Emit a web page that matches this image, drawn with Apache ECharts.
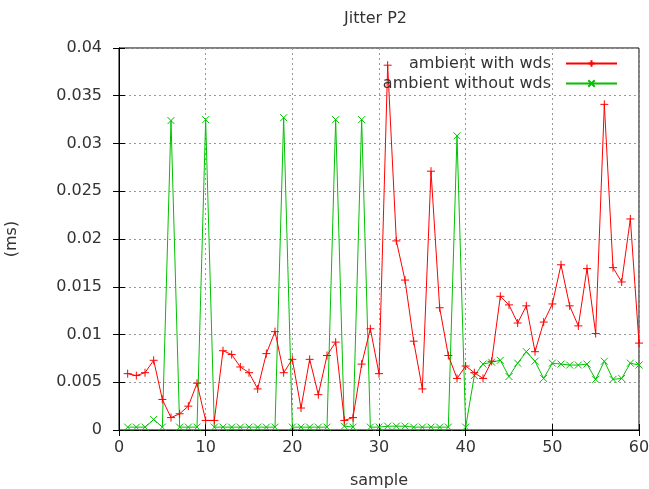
<!DOCTYPE html>
<html>
<head>
<meta charset="utf-8">
<script src="https://cdn.jsdelivr.net/npm/echarts@6/dist/echarts.min.js"></script>
<style>
  html, body { margin: 0; padding: 0; background: #fff; }
  #jitter { width: 649px; height: 489px; }
</style>
</head>
<body>
<div id="jitter"></div>
<script>
// sample index (x axis)
var samples = [1, 2, 3, 4, 5, 6, 7, 8, 9, 10, 11, 12, 13, 14, 15, 16, 17, 18, 19, 20,
  21, 22, 23, 24, 25, 26, 27, 28, 29, 30, 31, 32, 33, 34, 35, 36, 37, 38, 39, 40,
  41, 42, 43, 44, 45, 46, 47, 48, 49, 50, 51, 52, 53, 54, 55, 56, 57, 58, 59, 60];

// jitter in ms, ambient with wds
var withWds = [0.0059, 0.0057, 0.0060, 0.0073, 0.0032, 0.0013, 0.0017, 0.0025, 0.0049, 0.0010,
  0.0010, 0.0083, 0.0079, 0.0066, 0.0060, 0.0043, 0.0080, 0.0103, 0.0060, 0.0074,
  0.0023, 0.0074, 0.0037, 0.0078, 0.0092, 0.0010, 0.0013, 0.0069, 0.0106, 0.0059,
  0.0382, 0.0198, 0.0157, 0.0093, 0.0043, 0.0271, 0.0128, 0.0078, 0.0054, 0.0067,
  0.0060, 0.0054, 0.0072, 0.0140, 0.0131, 0.0112, 0.0130, 0.0082, 0.0113, 0.0132,
  0.0173, 0.0130, 0.0109, 0.0169, 0.0101, 0.0341, 0.0170, 0.0155, 0.0221, 0.0091];

// jitter in ms, ambient without wds
var withoutWds = [0.0003, 0.0003, 0.0003, 0.0011, 0.0003, 0.0324, 0.0003, 0.0003, 0.0003, 0.0325,
  0.0003, 0.0003, 0.0003, 0.0003, 0.0003, 0.0003, 0.0003, 0.0003, 0.0327, 0.0003,
  0.0003, 0.0003, 0.0003, 0.0003, 0.0325, 0.0004, 0.0003, 0.0325, 0.0003, 0.0003,
  0.0004, 0.0004, 0.0004, 0.0003, 0.0003, 0.0003, 0.0003, 0.0003, 0.0308, 0.0003,
  0.0057, 0.0069, 0.0071, 0.0073, 0.0056, 0.0070, 0.0082, 0.0072, 0.0054, 0.0070,
  0.0069, 0.0068, 0.0068, 0.0069, 0.0053, 0.0072, 0.0053, 0.0054, 0.0070, 0.0068];

var xTicks = [0, 10, 20, 30, 40, 50, 60];
var yTicks = [0, 0.005, 0.01, 0.015, 0.02, 0.025, 0.03, 0.035, 0.04];

function pairs(values) {
  return samples.map(function (s, i) {
    return [s, values[i]];
  });
}

var plusPath = 'path://M0,5L10,5M5,0L5,10';
var crossPath = 'path://M0,0L10,10M0,10L10,0';
var txt = '#333';

var myChart = echarts.init(document.getElementById('jitter'));
var option = {
  animation: false,
  title: {
    text: 'Jitter P2',
    left: 339,
    top: 6,
    textStyle: { fontFamily: 'DejaVu Sans', fontSize: 16, fontWeight: 'normal', color: txt }
  },
  legend: {
    orient: 'vertical',
    align: 'right',
    right: 26,
    top: 50,
    itemWidth: 51,
    itemHeight: 8,
    itemGap: 3,
    textStyle: { fontFamily: 'DejaVu Sans', fontSize: 16, lineHeight: 17, color: txt, padding: [0, 10, 0, 0] },
    data: ['ambient with wds', 'ambient without wds']
  },
  grid: {
    left: 119,
    right: 10,
    top: 48,
    bottom: 59,
    outerBoundsMode: 'none',
    show: true,
    borderColor: '#000',
    borderWidth: 1,
    backgroundColor: 'transparent'
  },
  xAxis: [{
    type: 'value',
    min: xTicks[0],
    max: xTicks[xTicks.length - 1],
    interval: 10,
    name: 'sample',
    nameLocation: 'middle',
    nameGap: 43,
    nameTextStyle: { fontFamily: 'DejaVu Sans', fontSize: 16, color: txt },
    axisLine: { lineStyle: { color: '#000', width: 1 } },
    axisTick: { inside: true, length: 6, lineStyle: { color: '#000' } },
    axisLabel: { fontFamily: 'DejaVu Sans', fontSize: 16, color: txt, margin: 10 },
    splitLine: { show: true, lineStyle: { color: '#999', type: [2, 3], width: 1 } }
  }, {
    type: 'value',
    position: 'top',
    min: xTicks[0],
    max: xTicks[xTicks.length - 1],
    interval: 10,
    axisLine: { lineStyle: { color: '#000', width: 1 } },
    axisTick: { inside: true, length: 6, lineStyle: { color: '#000' } },
    axisLabel: { show: false },
    splitLine: { show: false }
  }],
  yAxis: [{
    type: 'value',
    min: yTicks[0],
    max: yTicks[yTicks.length - 1],
    interval: 0.005,
    name: '(ms)',
    nameLocation: 'middle',
    nameGap: 99,
    nameTextStyle: { fontFamily: 'DejaVu Sans', fontSize: 16, color: txt },
    axisLine: { show: true, lineStyle: { color: '#000', width: 1 } },
    axisTick: { show: true, inside: true, length: 6, lineStyle: { color: '#000' } },
    axisLabel: { fontFamily: 'DejaVu Sans', fontSize: 16, color: txt, margin: 17 },
    splitLine: { show: true, lineStyle: { color: '#999', type: [2, 3], width: 1 } }
  }, {
    type: 'value',
    position: 'right',
    min: yTicks[0],
    max: yTicks[yTicks.length - 1],
    interval: 0.005,
    axisLine: { show: true, lineStyle: { color: '#000', width: 1 } },
    axisTick: { show: true, inside: true, length: 6, lineStyle: { color: '#000' } },
    axisLabel: { show: false },
    splitLine: { show: false }
  }],
  series: [{
    name: 'ambient with wds',
    type: 'line',
    data: pairs(withWds),
    symbol: plusPath,
    symbolSize: 8,
    showAllSymbol: true,
    lineStyle: { color: '#ff0000', width: 1 },
    itemStyle: { color: '#ff0000', borderColor: '#ff0000', borderWidth: 1 },
    z: 3
  }, {
    name: 'ambient without wds',
    type: 'line',
    data: pairs(withoutWds),
    symbol: crossPath,
    symbolSize: 7,
    showAllSymbol: true,
    lineStyle: { color: '#00c000', width: 1 },
    itemStyle: { color: '#00c000', borderColor: '#00c000', borderWidth: 1 },
    z: 2
  }]
};
myChart.setOption(option);
</script>
</body>
</html>
